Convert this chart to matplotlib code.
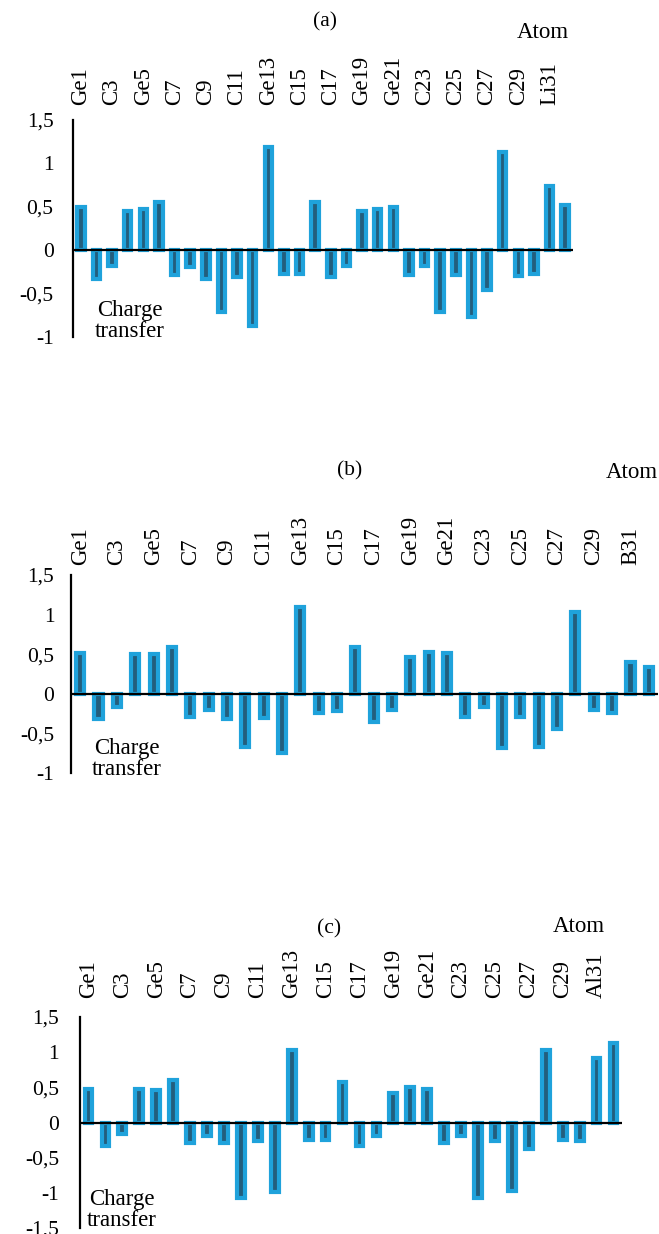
import matplotlib
matplotlib.use("Agg")
import matplotlib.pyplot as plt
import numpy as np

plt.rcParams['font.family'] = ['Liberation Serif', 'DejaVu Serif']

atoms = ["Ge1", "Ge2", "C3", "C4", "Ge5", "Ge6", "C7", "C8", "C9", "C10", "C11", "C12",
         "Ge13", "C14", "C15", "C16", "C17", "C18", "Ge19", "Ge20", "Ge21", "C22", "C23", "C24",
         "C25", "C26", "C27", "Ge28", "C29", "C30"]
atoms_a = atoms + ["Li31", "Li32"]
atoms_b = atoms + ["B31", "B32"]
atoms_c = atoms + ["Al31", "Al32"]

charge_a = [0.50, -0.33, -0.18, 0.45, 0.47, 0.55, -0.29, -0.19, -0.33, -0.71, -0.31, -0.87,
            1.19, -0.27, -0.27, 0.56, -0.31, -0.18, 0.45, 0.48, 0.50, -0.28, -0.18, -0.71,
            -0.28, -0.77, -0.46, 1.13, -0.30, -0.27, 0.74, 0.52]
charge_b = [0.51, -0.32, -0.17, 0.50, 0.50, 0.59, -0.29, -0.20, -0.32, -0.67, -0.30, -0.75,
            1.10, -0.24, -0.22, 0.59, -0.35, -0.20, 0.46, 0.53, 0.51, -0.29, -0.17, -0.68,
            -0.29, -0.67, -0.44, 1.03, -0.21, -0.24, 0.40, 0.34]
charge_c = [0.47, -0.33, -0.17, 0.47, 0.46, 0.60, -0.29, -0.19, -0.29, -1.08, -0.27, -0.99,
            1.03, -0.25, -0.25, 0.58, -0.33, -0.19, 0.42, 0.51, 0.47, -0.29, -0.19, -1.08,
            -0.27, -0.97, -0.38, 1.03, -0.25, -0.26, 0.92, 1.13]

panel_titles = ["(a)", "(b)", "(c)"]
yticks_a = [-1, -0.5, 0, 0.5, 1, 1.5]
yticks_c = [-1.5, -1, -0.5, 0, 0.5, 1, 1.5]

W, H = 659, 1234
fig = plt.figure(figsize=(W / 100, H / 100), dpi=100)


def fx(px):
    return px / W


def fy(py):
    return 1 - py / H


def fmt(v):
    return ("%g" % v).replace(".", ",")


EDGE = "#1FA2DB"
FACE = "#235E7D"

panels = [
    (atoms_a, charge_a, yticks_a, 73, 573, 120, 337, (325, 22), (543, 32), 11, 14, (130, 321), 0.48),
    (atoms_b, charge_b, yticks_a, 71, 658, 575, 773, (350, 471), (632, 472), 7, 12, (127, 759), 0.44),
    (atoms_c, charge_c, yticks_c, 80, 622, 1017, 1228, (329, 929), (579, 926), 14, 15, (122, 1210), 0.46),
]

for (names, vals, yt, l, r, t, b, txy, axy, lpad, ypad, cxy, bw), title in zip(panels, panel_titles):
    ax = fig.add_axes([fx(l), fy(b), fx(r) - fx(l), fy(t) - fy(b)])
    x = np.arange(1, len(vals) + 1)
    ax.bar(x, vals, width=bw, color=FACE, edgecolor=EDGE, linewidth=3.0, zorder=2)
    ax.axhline(0, color="black", lw=1.6, zorder=3)
    ax.set_xlim(0.5, len(vals) + 0.5)
    ax.set_ylim(min(yt), max(yt))
    ax.set_yticks(yt)
    ax.set_yticklabels([fmt(v) for v in yt], fontsize=15.5)
    ax.xaxis.tick_top()
    ax.set_xticks(x[::2])
    ax.set_xticklabels(names[::2], rotation=90, fontsize=16.5)
    ax.tick_params(axis="x", length=0, pad=lpad)
    ax.tick_params(axis="y", length=0, pad=ypad)
    for s in ["top", "right", "bottom"]:
        ax.spines[s].set_visible(False)
    ax.spines["left"].set_linewidth(1.6)
    ax.patch.set_alpha(0)
    fig.text(fx(txy[0]), fy(txy[1]), title, ha="center", va="center", fontsize=15.5)
    fig.text(fx(axy[0]), fy(axy[1]), "Atom", ha="center", va="center", fontsize=16.5)
    fig.text(fx(cxy[0]), fy(cxy[1]), "Charge\ntransfer", ha="center", va="center",
             fontsize=16.5, linespacing=1.0)

fig.savefig("out.png", dpi=100)
